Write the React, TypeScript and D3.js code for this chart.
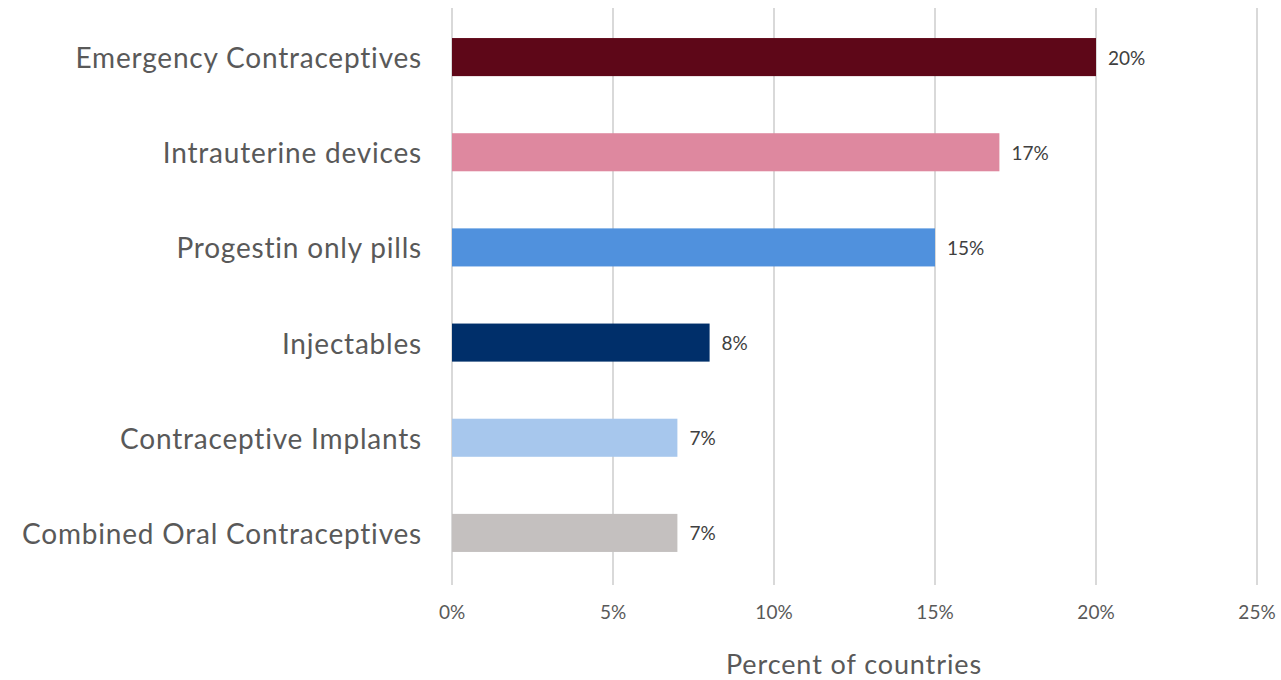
import React from "react";
import * as d3 from "d3";

const categories = [
  "Emergency Contraceptives",
  "Intrauterine devices",
  "Progestin only pills",
  "Injectables",
  "Contraceptive Implants",
  "Combined Oral Contraceptives",
];
const values = [20, 17, 15, 8, 7, 7];
const colors = ["#5E0718", "#DE889F", "#5091DD", "#002F6A", "#A7C7ED", "#C4C0BF"];
const ticks = [0, 5, 10, 15, 20, 25];
const axisTitle = "Percent of countries";

const W = 1281;
const H = 680;
const FONT = "Lato, 'Open Sans', sans-serif";

export default function App() {
  const x = d3.scaleLinear().domain([0, 25]).range([452, 1257]);
  const y = d3.scaleBand().domain(categories).range([9.5, 580.5]).paddingInner(0.6).paddingOuter(0.3);

  return (
    <svg width={W} height={H} style={{ position: "absolute", left: 0, top: 0, background: "#fff" }}>
      {ticks.map((t) => (
        <line key={"g" + t} x1={x(t)} x2={x(t)} y1={8} y2={585} stroke="#D9D9D9" strokeWidth={2} />
      ))}
      {categories.map((c, i) => (
        <g key={c}>
          <rect x={x(0)} y={y(c)} width={x(values[i]) - x(0)} height={y.bandwidth()} fill={colors[i]} />
          <text
            x={422}
            y={(y(c) as number) + y.bandwidth() / 2}
            textAnchor="end"
            dominantBaseline="central"
            fontFamily={FONT}
            fontSize={28}
            letterSpacing={0.8}
            fill="#595959"
          >
            {c}
          </text>
          <text
            x={x(values[i]) + 12}
            y={(y(c) as number) + y.bandwidth() / 2}
            dominantBaseline="central"
            fontFamily={FONT}
            fontSize={19}
            fill="#404040"
          >
            {values[i] + "%"}
          </text>
        </g>
      ))}
      {ticks.map((t) => (
        <text
          key={"t" + t}
          x={x(t)}
          y={611}
          textAnchor="middle"
          dominantBaseline="central"
          fontFamily={FONT}
          fontSize={19}
          fill="#595959"
        >
          {t + "%"}
        </text>
      ))}
      <text
        x={854}
        y={674}
        textAnchor="middle"
        fontFamily={FONT}
        fontSize={27}
        letterSpacing={0.9}
        fill="#595959"
      >
        {axisTitle}
      </text>
    </svg>
  );
}
